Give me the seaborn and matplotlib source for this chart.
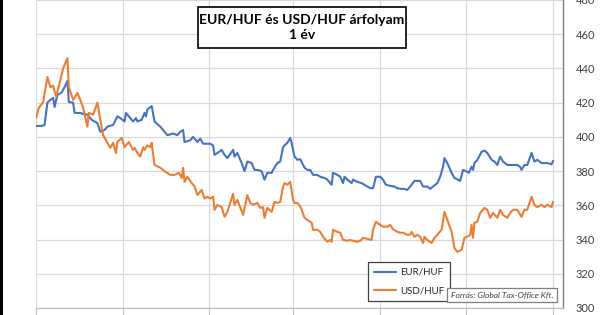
import matplotlib
matplotlib.use("Agg")
import matplotlib.pyplot as plt
import matplotlib.patches as mpatches
import seaborn as sns
import pandas as pd

# ---- data (days from start of the 1-year window, exchange rate in HUF) ----
eur_days = [0, 4, 6, 8, 10, 12, 13, 15, 18, 20, 22, 23, 26, 27, 31, 33, 36, 39, 43, 45,
            48, 50, 54, 57, 59, 62, 63, 65, 68, 70, 71, 74, 76, 77, 78, 81, 83, 87, 90, 92,
            96, 99, 101, 103, 104, 108, 110, 113, 115, 117, 120, 122, 124, 125, 127, 130, 132, 134, 138, 139,
            141, 144, 146, 148, 151, 153, 155, 158, 160, 162, 165, 166, 169, 171, 173, 174, 176, 178, 179, 181,
            183, 185, 188, 190, 192, 194, 197, 199, 202, 204, 207, 208, 211, 213, 215, 216, 218, 221, 222, 225,
            228, 230, 234, 236, 238, 241, 243, 245, 248, 251, 253, 256, 258, 260, 263, 265, 269, 271, 274, 276,
            278, 281, 283, 285, 286, 288, 291, 293, 297, 299, 302, 303, 305, 306, 307, 309, 312, 314, 316, 319,
            321, 323, 325, 327, 330, 333, 337, 339, 340, 342, 344, 347, 349, 351, 354, 358, 361, 362]
eur_huf = [406.4, 406.4, 407, 420, 421.6, 422.8, 417.5, 424.5, 426, 429, 432.7, 420.4, 420, 414, 414, 413.4, 413, 410, 408, 403,
           404, 406, 407, 412, 411, 409, 414, 412, 409, 411, 409, 410, 414, 412, 416, 418, 409, 406, 403, 401,
           402, 401, 403, 404, 397, 398, 400, 397, 399, 396, 396, 396, 395, 389.5, 390.6, 392.4, 389.5, 387.6, 392.4, 388.5,
           390.6, 384.7, 380, 385.6, 384.7, 380.7, 380.7, 380, 375, 379, 379, 380.7, 384.7, 385.6, 394, 395, 396.5, 399.4, 396.5, 388.5,
           386.6, 387, 382, 380.7, 380.7, 377.8, 377.8, 376.7, 376, 375, 372, 379, 377.8, 376.7, 373, 376.7, 375, 373, 375, 373.7,
           373, 372, 370, 370, 376.7, 376.7, 375, 372, 371.4, 371, 370, 369.6, 369.6, 369, 372, 374.3, 374.3, 371, 371, 369.6,
           371, 373, 376.7, 382.5, 387.6, 384.7, 379, 376, 374.3, 380.7, 379.6, 379, 382.5, 380.7, 384.7, 386.5, 391.3, 392, 390.6, 386.6,
           385.6, 383.6, 388.5, 385.6, 383.6, 383.6, 383.6, 382.5, 380.7, 383.6, 383.6, 390.6, 385.6, 386.6, 384.7, 384.7, 384, 386]

usd_days = [0, 2, 5, 8, 10, 12, 14, 17, 19, 22, 23, 26, 29, 31, 33, 36, 37, 40, 43, 45,
            47, 50, 52, 54, 56, 57, 60, 62, 65, 68, 69, 71, 73, 75, 76, 78, 80, 81, 83, 87,
            90, 94, 97, 100, 102, 103, 104, 106, 109, 111, 113, 116, 118, 120, 122, 124, 125, 127, 130, 132,
            134, 138, 139, 141, 145, 148, 150, 152, 155, 157, 159, 160, 162, 165, 167, 169, 171, 173, 174, 176,
            178, 180, 181, 183, 185, 187, 188, 190, 193, 194, 197, 199, 201, 204, 206, 207, 208, 211, 213, 215,
            218, 220, 222, 225, 227, 229, 232, 235, 236, 238, 241, 243, 246, 248, 250, 253, 255, 257, 260, 262,
            263, 265, 267, 269, 271, 272, 274, 277, 279, 281, 284, 286, 288, 291, 293, 295, 298, 300, 302, 304,
            305, 306, 307, 309, 311, 314, 316, 318, 320, 323, 325, 327, 330, 332, 334, 337, 340, 342, 344, 347,
            349, 351, 354, 356, 358, 361, 362]
usd_huf = [411, 417, 420.4, 435, 429, 430, 423.4, 433, 440, 446, 429, 421.6, 425.7, 421.6, 417, 406, 414, 413, 420, 410,
           401, 396.5, 393.6, 396.5, 390.6, 397, 399.4, 394, 397, 392.4, 393.6, 390.6, 388.5, 394, 392.4, 395, 394, 396.5, 383.6, 382,
           380, 377.8, 377.8, 379, 376, 382, 373.7, 376.7, 373, 371, 366, 369, 364, 365, 364, 365, 357.4, 360.3, 359, 353.3,
           356.2, 366.7, 360.3, 363.2, 354.4, 366, 361.4, 360.3, 361.4, 358.5, 359, 352.7, 358.5, 356.2, 362, 361.4, 362, 371, 373, 372,
           373.7, 363.2, 361.4, 361.4, 359.5, 355, 352.7, 351.5, 349.8, 345.7, 345.7, 344.5, 341.6, 338.7, 339.8, 338.7, 345.7, 344.5, 344, 339.8,
           339.3, 339.8, 339.3, 338.7, 339.3, 341, 340.4, 339.8, 345.7, 350.4, 348.6, 347.5, 347.5, 348.6, 346, 344.5, 344, 344, 342.8, 342.8,
           344.5, 341.6, 342.8, 341.6, 338, 341.6, 339.8, 338, 341, 342.8, 345.7, 356.2, 351.5, 344.5, 335, 332.8, 334, 341, 341.6, 342.8,
           348.6, 341, 349.8, 350.4, 355.6, 358.5, 357.4, 352.7, 355.6, 352.7, 357.4, 354.4, 352.7, 355.6, 357.4, 357.4, 353.3, 357.4, 357.4, 365,
           360.3, 359, 360.3, 359, 360.3, 359, 362]

series_names = ["EUR/HUF", "USD/HUF"]
y_ticks = [300, 320, 340, 360, 380, 400, 420, 440, 460, 480]
title_text = "EUR/HUF és USD/HUF árfolyam\n1 év"
source_text = "Forrás: Global Tax-Office Kft."

df = pd.concat([
    pd.DataFrame({"day": eur_days, "rate": eur_huf, "pair": series_names[0]}),
    pd.DataFrame({"day": usd_days, "rate": usd_huf, "pair": series_names[1]}),
], ignore_index=True)

sns.set_style("white")
plt.rcParams["font.family"] = ["Lato", "DejaVu Sans"]

W, H = 600, 315
fig = plt.figure(figsize=(W / 100, H / 100), dpi=100)
ax = fig.add_axes([36 / W, 1 - 308 / H, (563 - 36) / W, 308 / H])

sns.lineplot(data=df, x="day", y="rate", hue="pair", hue_order=series_names,
             palette=["#4472C4", "#ED7D31"], linewidth=1.5, estimator=None,
             sort=True, ax=ax, legend=True)

ax.set_xlim(0, 369)
ax.set_ylim(300, 480)
ax.set_yticks(y_ticks)
ax.set_xticks([0, 61, 121, 180, 241, 301, 362])
ax.set_xticklabels([])
ax.set_xlabel("")
ax.set_ylabel("")
ax.yaxis.tick_right()
ax.tick_params(axis="y", length=0, pad=9, labelsize=8, labelcolor="#404040")
ax.tick_params(axis="x", length=5, width=0.8, color="#BFBFBF", direction="out", bottom=True)
ax.grid(True, color="#D9D9D9", linewidth=0.9)
ax.set_axisbelow(True)
for s in ["top", "left"]:
    ax.spines[s].set_visible(False)
ax.spines["bottom"].set_color("#BFBFBF")
ax.spines["bottom"].set_linewidth(0.9)
ax.spines["right"].set_color("#7F7F7F")
ax.spines["right"].set_linewidth(1.0)

# legend
leg = ax.legend(loc="lower left", bbox_to_anchor=(368 / W, 14 / H),
                bbox_transform=fig.transFigure, frameon=True, fancybox=False,
                edgecolor="#404040", framealpha=1, fontsize=7, handlelength=2.3,
                labelspacing=0.95, borderpad=0.6, handletextpad=0.4, borderaxespad=0)
leg.get_frame().set_linewidth(0.9)
for t in leg.get_texts():
    t.set_color("#262626")

# title box
fig.add_artist(mpatches.Rectangle((198 / W, 1 - 48 / H), (406 - 198) / W, 41 / H,
                                  transform=fig.transFigure, facecolor="white",
                                  edgecolor="black", linewidth=1.2, zorder=5))
fig.text(302 / W, 1 - 27.5 / H, title_text, ha="center", va="center",
         fontsize=10, fontweight="bold", color="black", linespacing=1.35, zorder=6)

# source box
fig.add_artist(mpatches.Rectangle((447 / W, 1 - 302 / H), (557 - 447) / W, 14 / H,
                                  transform=fig.transFigure, facecolor="white",
                                  edgecolor="#7F7F7F", linewidth=0.9, zorder=5))
fig.text(502 / W, 1 - 295 / H, source_text, ha="center", va="center",
         fontsize=6.0, style="italic", color="#404040", zorder=6)

# left black frame edge
fig.add_artist(mpatches.Rectangle((0, 0), 2.5 / W, 1, transform=fig.transFigure,
                                  facecolor="black", edgecolor="none", zorder=7))

fig.savefig("out.png", dpi=100)
